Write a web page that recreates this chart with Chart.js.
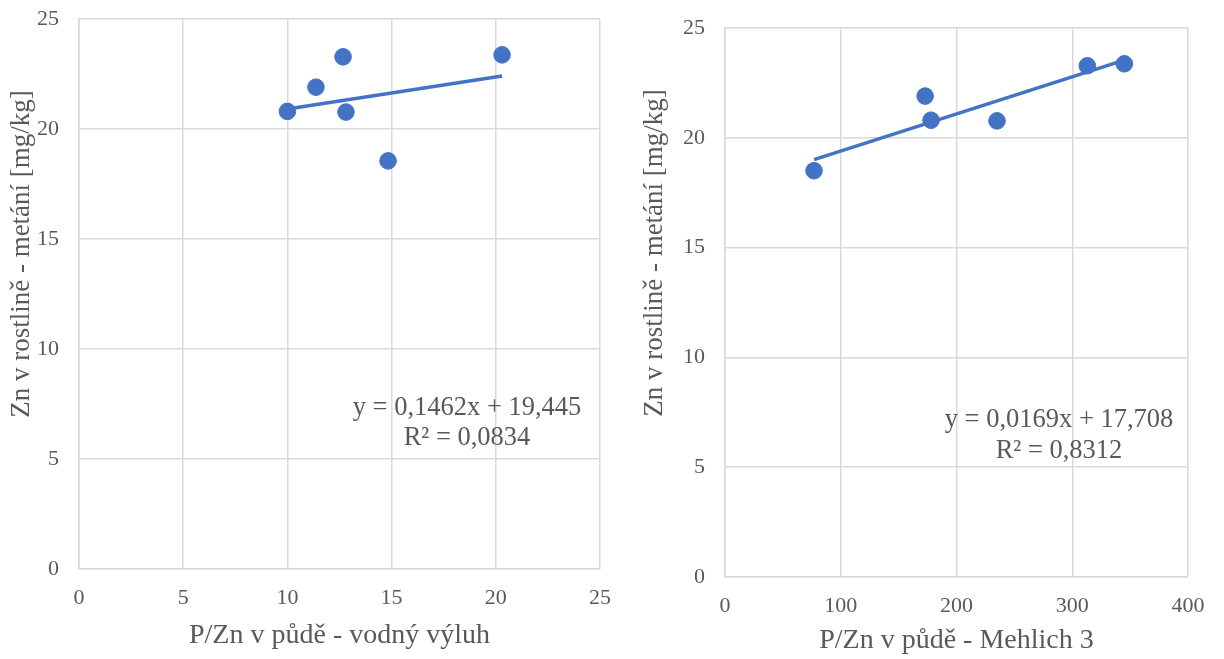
<!DOCTYPE html>
<html><head><meta charset="utf-8">
<script src="https://cdn.jsdelivr.net/npm/chart.js@4"></script>
<style>
body{margin:0;background:#fff;width:1224px;height:659px;overflow:hidden;position:relative}
.c{position:absolute;top:0;height:659px}
</style></head><body>
<div class="c" style="left:0;width:620px"><canvas id="c1"></canvas></div>
<div class="c" style="left:620px;width:604px"><canvas id="c2"></canvas></div>
<script>
// Chart 1: water extract
const xWater = [10.0, 11.37, 12.67, 12.81, 14.83, 20.3];
const yWater = [20.8, 21.9, 23.28, 20.77, 18.55, 23.37];
const trendWater = [0.1462, 19.445];   // slope, intercept
const eqWater = ['y = 0,1462x + 19,445', 'R² = 0,0834'];
const xTicksWater = [0, 5, 10, 15, 20, 25];

// Chart 2: Mehlich 3
const xMehlich = [76.9, 172.9, 178.0, 235.0, 313.0, 345.0];
const yMehlich = [18.5, 21.9, 20.8, 20.77, 23.28, 23.37];
const trendMehlich = [0.0169, 17.708];
const eqMehlich = ['y = 0,0169x + 17,708', 'R² = 0,8312'];
const xTicksMehlich = [0, 100, 200, 300, 400];

const yTicks = [0, 5, 10, 15, 20, 25];
const yTitle = 'Zn v rostlině - metání [mg/kg]';
const xTitleWater = 'P/Zn v půdě - vodný výluh';
const xTitleMehlich = 'P/Zn v půdě - Mehlich 3';

const BLUE = '#4472C4', GRID = '#d9d9d9', TXT = '#595959';
const FONT = "'Liberation Serif', 'Times New Roman', serif";

function pts(xs, ys){ return xs.map((x,i)=>({x, y: ys[i]})); }
function trend(xs, c){
  const a = Math.min(...xs), b = Math.max(...xs);
  return [{x:a, y:c[0]*a+c[1]}, {x:b, y:c[0]*b+c[1]}];
}

const textPlugin = {
  id: 'texts',
  afterDatasetsDraw(chart, args, o){
    const ctx = chart.ctx;
    ctx.save();
    ctx.fillStyle = TXT;
    ctx.font = '26.5px ' + FONT;
    ctx.textAlign = 'center';
    ctx.textBaseline = 'alphabetic';
    o.eq.forEach((t,i)=> ctx.fillText(t, o.eqX, o.eqY + i*o.eqDy));
    ctx.font = '27px ' + FONT;
    ctx.translate(o.ytX, o.ytY);
    ctx.rotate(-Math.PI/2);
    ctx.textBaseline = 'middle';
    ctx.fillText(o.yt, 0, 0);
    ctx.restore();
  }
};

function make(id, xs, ys, c, eq, xTicks, xMax, xTitle, lay){
  new Chart(document.getElementById(id), {
    data: { datasets: [
      { type:'line', data: trend(xs, c), borderColor: BLUE, borderWidth: 3.5,
        pointRadius: 0, fill: false, order: 2 },
      { type:'scatter', data: pts(xs, ys), backgroundColor: BLUE, borderColor: BLUE,
        pointRadius: 8.3, pointHoverRadius: 8.3, order: 1 }
    ]},
    options: {
      responsive: true, maintainAspectRatio: false, animation: false,
      layout: { padding: lay.pad },
      plugins: { legend: {display:false}, tooltip: {enabled:false},
        texts: { eq, eqX: lay.eqX, eqY: lay.eqY, eqDy: lay.eqDy, yt: yTitle, ytX: lay.ytX, ytY: lay.ytY } },
      scales: {
        x: { type:'linear', min: 0, max: xMax,
          afterBuildTicks: s => { s.ticks = xTicks.map(v=>({value:v})); },
          afterFit: s => { s.height = lay.xH; s.paddingLeft = 0; s.paddingRight = 0; s.paddingTop = 0; s.paddingBottom = 0; },
          grid: { color: GRID, lineWidth: 1.5, drawTicks: false },
          border: { color: GRID, width: 1.5 },
          ticks: { color: TXT, font: { family: FONT, size: 22 }, padding: 16, maxRotation: 0 },
          title: { display: true, text: xTitle, color: TXT, font: { family: FONT, size: 28 }, padding: { top: 0, bottom: lay.xtPad } }
        },
        y: { type:'linear', min: 0, max: 25,
          afterBuildTicks: s => { s.ticks = yTicks.map(v=>({value:v})); },
          afterFit: s => { s.width = lay.yW; s.paddingLeft = 0; s.paddingRight = 0; s.paddingTop = 0; s.paddingBottom = 0; },
          grid: { color: GRID, lineWidth: 1.5, drawTicks: false },
          border: { color: GRID, width: 1.5 },
          ticks: { color: TXT, font: { family: FONT, size: 22 }, padding: 20 }
        }
      }
    },
    plugins: [textPlugin]
  });
}

make('c1', xWater, yWater, trendWater, eqWater, xTicksWater, 25, xTitleWater,
  { pad: {top: 19, right: 20, left: 0, bottom: 0}, xH: 90, yW: 79, xtPad: 7,
    eqX: 467, eqY: 415, eqDy: 30, ytX: 22, ytY: 254 });
make('c2', xMehlich, yMehlich, trendMehlich, eqMehlich, xTicksMehlich, 400, xTitleMehlich,
  { pad: {top: 28, right: 36, left: 0, bottom: 0}, xH: 82, yW: 105, xtPad: 2,
    eqX: 439, eqY: 427, eqDy: 31, ytX: 35, ytY: 253 });
</script>
</body></html>
